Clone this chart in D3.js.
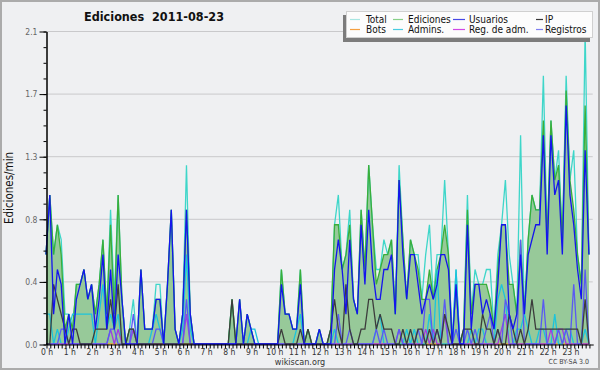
<!DOCTYPE html>
<html>
<head>
<meta charset="utf-8">
<script src="https://cdnjs.cloudflare.com/ajax/libs/d3/7.8.5/d3.min.js"></script>
<style>
  html, body { margin: 0; padding: 0; background: #fff; }
  svg { display: block; }
  text { font-family: 'DejaVu Sans Condensed', 'DejaVu Sans', sans-serif; font-stretch: condensed; }
</style>
</head>
<body>
<div id="chart"></div>
<script>
// values per 10 minutes (edits/min), 6 per hour, 0h .. 23h50
var total = [
  0.6,1.0,0.6,0.8,0.7,0.2, 0.2,0.1,0.4,0.4,0.5,0.3, 0.4,0.2,0.4,0.7,0.2,0.9,
  0.3,1.0,0.3,0,0.1,0.3,   0,0.5,0.1,0.1,0.1,0.4,   0.4,0,0.4,0.9,0.1,0,
  0.2,1.2,0.2,0,0,0,       0,0,0,0,0,0,             0,0.3,0,0.3,0,0.2,
  0.1,0,0,0,0,0,           0,0,0.5,0.2,0.2,0.1,     0.1,0.5,0,0.1,0,0,
  0.1,0,0,0.1,0.8,1.0,     0.5,0.6,0.9,0.3,0.2,0.9, 0.5,1.2,0.8,0.5,0.5,0.7,
  0.6,0.7,0.2,1.2,0.7,0.3, 0.7,0.6,0.6,0.3,0.6,0.8, 0.3,0.6,0.6,1.1,0.6,0,
  0.5,0,0.1,1.0,0.2,0.5,   0.4,0.4,0.5,0.5,0.1,0.6, 0.8,1.1,0.6,0.4,0.2,1.4,
  0.2,0.7,1.0,0.9,0.9,1.8, 0.7,1.5,1.1,1.3,0.7,1.8, 1.1,1.3,0.6,0.4,2.1,0.6
];
var ediciones = [
  0.6,1.0,0.6,0.8,0.6,0.1, 0.2,0.1,0.4,0.4,0.5,0.3, 0.4,0.2,0.4,0.7,0.2,0.8,
  0.2,1.0,0.3,0,0.1,0.1,   0,0.5,0.1,0.1,0.1,0.3,   0.3,0,0.4,0.9,0.1,0,
  0.2,0.9,0.2,0,0,0,       0,0,0,0,0,0,             0,0.3,0,0.3,0,0.2,
  0.1,0,0,0,0,0,           0,0,0.5,0.2,0.2,0.1,     0.1,0.5,0,0.1,0,0,
  0.1,0,0,0.1,0.8,0.8,     0.5,0.6,0.8,0.3,0.2,0.9, 0.5,1.2,0.8,0.4,0.5,0.6,
  0.6,0.7,0.2,1.1,0.7,0.3, 0.7,0.6,0.5,0.3,0.3,0.5, 0.3,0.5,0.6,0.8,0.6,0,
  0.4,0,0.1,0.9,0.2,0.4,   0.4,0.4,0.4,0.3,0.1,0.5, 0.8,0.8,0.4,0.4,0.2,0.7,
  0.2,0.7,1.0,0.9,0.9,1.5, 0.7,1.5,1.1,1.2,0.7,1.7, 1.1,0.9,0.6,0.4,1.6,0.6
];
var usuarios = [
  0.6,1.0,0.2,0.5,0.4,0,   0.2,0,0.3,0.4,0.5,0.3,   0.4,0.1,0.3,0.6,0.1,0.5,
  0.1,0.6,0.3,0,0,0,       0,0.5,0.1,0.1,0.1,0.3,   0.3,0,0.4,0.9,0.1,0,
  0.2,0.9,0.2,0,0,0,       0,0,0,0,0,0,             0,0,0,0.3,0,0.2,
  0.1,0,0,0,0,0,           0,0,0.4,0.2,0.2,0.1,     0.1,0.4,0,0,0,0,
  0.1,0,0,0,0.5,0.7,       0.5,0.2,0.7,0.3,0.2,0.8, 0.4,0.9,0.5,0.3,0.3,0.5,
  0.5,0.6,0.2,1.1,0.6,0.3, 0.6,0.6,0.4,0.2,0.3,0.4, 0.3,0.4,0.6,0.6,0.5,0,
  0.4,0,0,0.8,0.1,0.4,     0.4,0.2,0.3,0.2,0.1,0.4, 0.8,0.8,0.2,0.1,0.2,0.6,
  0.2,0.6,0.7,0.8,0.8,1.4, 0.6,1.4,1.0,1.1,0.6,1.6, 1.0,0.8,0.5,0.3,1.3,0.6
];
var ip = [
  0,0,0.4,0.3,0.2,0.1,     0,0.1,0.1,0,0,0,         0,0.1,0.1,0.1,0.1,0.3,
  0.1,0.4,0,0,0.1,0.1,     0,0,0,0,0,0,             0,0,0,0,0,0,
  0,0,0,0,0,0,             0,0,0,0,0,0,             0,0.3,0,0,0,0,
  0,0,0,0,0,0,             0,0,0.1,0,0,0,           0,0.1,0,0.1,0,0,
  0,0,0,0.1,0.3,0.1,       0,0.4,0.1,0,0,0.1,       0.1,0.3,0.3,0.1,0.2,0.1,
  0.1,0.1,0,0,0.1,0,       0.1,0,0.1,0.1,0,0.1,     0,0.1,0,0.2,0.1,0,
  0,0,0.1,0.1,0.1,0,       0,0.2,0.1,0.1,0,0.1,     0,0,0.2,0.1,0,0.1,
  0,0.1,0.3,0.1,0.1,0.1,   0.1,0.1,0.1,0.1,0.1,0.1, 0.1,0.1,0.1,0,0.3,0
];
var bots = [
  0,0,0,0,0,0, 0,0,0,0,0,0, 0,0,0,0,0,0, 0,0,0,0,0,0, 0,0,0,0,0,0, 0,0,0,0,0,0,
  0,0,0,0,0,0, 0,0,0,0,0,0, 0,0,0,0,0,0, 0,0,0,0,0,0, 0,0,0,0,0,0, 0,0,0,0,0,0,
  0,0,0,0,0,0, 0,0,0,0,0,0, 0,0,0,0,0,0, 0,0,0,0,0,0, 0,0,0,0,0,0, 0,0,0,0,0,0,
  0,0,0,0,0,0, 0,0,0,0,0,0, 0,0,0,0,0,0, 0,0,0,0,0,0, 0,0,0,0,0,0, 0,0,0,0,0,0
];
var admins = [
  0.2,0.2,0,0.1,0,0,       0.1,0.2,0.2,0.2,0.2,0.2, 0.2,0,0.2,0.4,0.1,0.2,
  0.1,0.2,0,0,0,0.1,       0,0,0,0,0.1,0.2,         0.1,0,0,0,0,0,
  0.1,0.6,0.1,0,0,0,       0,0,0,0,0,0,             0,0,0,0,0,0,
  0.1,0.1,0,0,0,0,         0,0,0,0,0,0,             0.1,0.2,0,0,0,0,
  0,0,0,0,0.1,0,           0,0,0,0,0,0,             0,0,0,0.1,0.2,0,
  0,0,0,0,0,0.1,           0,0.1,0,0,0,0.2,         0,0.5,0,0,0,0,
  0.5,0,0,0,0.1,0,         0.1,0.1,0,0,0,0.3,       0.4,0.3,0,0,0.1,0.1,
  0.2,0.1,0,0,0.1,0.1,     0,0,0.2,0,0,0.1,         0.1,0,0,0,0.1,0
];
var regAdm = [
  0,0,0,0,0,0, 0,0,0,0,0,0, 0,0,0,0,0,0.1, 0,0.1,0,0,0,0.1, 0,0,0,0,0,0, 0,0,0,0,0,0,
  0,0.2,0,0,0,0, 0,0,0,0,0,0, 0,0,0,0,0,0, 0,0,0,0,0,0, 0,0,0,0,0,0, 0,0,0,0,0,0,
  0,0,0,0,0,0, 0,0,0,0,0,0, 0,0,0,0,0,0, 0,0,0,0.1,0,0, 0,0,0,0,0.1,0, 0.1,0,0,0.2,0,0,
  0,0,0,0,0,0, 0,0,0,0,0,0, 0.1,0.2,0,0,0,0, 0,0,0,0,0,0, 0,0.1,0,0.1,0.1,0, 0,0,0,0,0,0
];
var registros = [
  0,0,0,0,0.1,0.1,         0,0,0,0,0,0,             0,0,0,0,0,0.1,
  0.1,0,0,0,0,0.2,         0,0,0,0,0,0.1,           0.1,0,0,0,0,0,
  0,0.3,0,0,0,0,           0,0,0,0,0,0,             0,0,0,0,0,0,
  0,0,0,0,0,0,             0,0,0,0,0,0,             0,0,0,0,0,0,
  0,0,0,0,0,0.2,           0,0,0.1,0,0,0,           0,0,0,0.1,0,0.1,
  0,0,0,0.1,0,0,           0,0,0.1,0,0.3,0.3,       0,0.1,0,0.3,0,0,
  0.1,0,0,0.1,0,0.1,       0,0,0.1,0.2,0,0.1,       0,0.3,0.2,0,0,0.7,
  0,0,0,0,0,0.3,           0,0,0,0.1,0,0.1,         0,0.4,0,0,0.5,0
];

var seriesNames = ['Total', 'Ediciones', 'Usuarios', 'IP', 'Bots', 'Admins.', 'Reg. de adm.', 'Registros'];
var seriesData = [total, ediciones, usuarios, ip, bots, admins, regAdm, registros];
var seriesColors = ['#3ed6c9', '#3aae3a', '#1414ee', '#3c3c3c', '#f0a030', '#1cc4dc', '#a33de0', '#5a5af2'];
var legendColors = ['#a8e6e2', '#88d088', '#4848e6', '#383838', '#f5a040', '#48cce0', '#d048e6', '#7e7ef0'];
var drawOrder = [0, 1, 4, 5, 6, 7, 3, 2];
var hourLabels = d3.range(24).map(h => h + ' h');
var yMajor = [0, 0.42, 0.84, 1.26, 1.68, 2.1];

var width = 600, height = 370;

var svg = d3.select('#chart')
  .append('svg')
  .attr('width', width)
  .attr('height', height);

svg.append('rect')
  .attr('x', 1).attr('y', 1)
  .attr('width', width - 2).attr('height', height - 2)
  .attr('fill', '#eff0f2')
  .attr('stroke', '#ababab')
  .attr('stroke-width', 2);

let xScale = d3.scaleLinear()
  .domain([0, 24])
  .range([46, 46 + 24 * 22.78]);

let yScale = d3.scaleLinear()
  .domain([0, 2.1])
  .range([344, 31]);

// grid lines
svg.append('g')
  .selectAll('line')
  .data(yMajor.slice(1))
  .enter()
  .append('line')
  .attr('x1', xScale(0))
  .attr('x2', xScale(24))
  .attr('y1', d => yScale(d) + 0.5)
  .attr('y2', d => yScale(d) + 0.5)
  .attr('stroke', '#c9c9cb')
  .attr('stroke-width', 1);

let xOf = (d, i) => xScale(i / 6);

let area = d3.area()
  .x(xOf)
  .y0(yScale(0))
  .y1(d => yScale(d));

svg.append('path')
  .datum(ediciones)
  .attr('d', area)
  .attr('fill', '#97c999');

let line = d3.line()
  .x(xOf)
  .y(d => yScale(d));

drawOrder.forEach(k => {
  svg.append('path')
    .datum(seriesData[k])
    .attr('d', line)
    .attr('fill', 'none')
    .attr('stroke', seriesColors[k])
    .attr('stroke-width', 1.3)
    .attr('stroke-linejoin', 'miter');
});

// axes
let yAxis = d3.axisLeft(yScale)
  .tickValues(yMajor)
  .tickSize(7)
  .tickSizeOuter(0)
  .tickFormat(d3.format('.1f'));

let yMinor = d3.axisLeft(yScale)
  .tickValues(d3.range(0, 21).map(k => k * 0.105))
  .tickSize(3)
  .tickSizeOuter(0)
  .tickFormat('');

let xAxis = d3.axisBottom(xScale)
  .tickValues(d3.range(0, 144).map(k => k / 6))
  .tickSize(4)
  .tickSizeOuter(0)
  .tickFormat(d => Number.isInteger(Math.round(d * 6) / 6) && Math.abs(d - Math.round(d)) < 1e-6 ? hourLabels[Math.round(d)] : '');

let gy = svg.append('g')
  .attr('transform', 'translate(46.5, 0.5)')
  .call(yAxis);
svg.append('g')
  .attr('transform', 'translate(46.5, 0.5)')
  .call(yMinor);
let gx = svg.append('g')
  .attr('transform', 'translate(0.5, 344.5)')
  .call(xAxis);

svg.selectAll('.domain').attr('stroke', '#000');
svg.selectAll('.tick line').attr('stroke', '#000');
gy.selectAll('text')
  .attr('x', -9)
  .style('font-size', '8.5px')
  .attr('fill', '#666');
gx.selectAll('text')
  .attr('y', 4)
  .attr('dy', '0.71em')
  .style('font-size', '8.5px')
  .attr('fill', '#333');

// titles
svg.append('text')
  .attr('x', 154)
  .attr('y', 21)
  .attr('text-anchor', 'middle')
  .style('font-size', '12.5px')
  .style('font-weight', 'bold')
  .attr('fill', '#111')
  .text('Ediciones  2011-08-23')
  .attr('xml:space', 'preserve');

svg.append('text')
  .attr('transform', 'translate(13, 188) rotate(-90)')
  .attr('text-anchor', 'middle')
  .style('font-size', '11.5px')
  .attr('fill', '#111')
  .text('Ediciones/min');

svg.append('text')
  .attr('x', 300)
  .attr('y', 365)
  .attr('text-anchor', 'middle')
  .style('font-size', '9px')
  .attr('fill', '#333')
  .text('wikiscan.org');

svg.append('text')
  .attr('x', 589)
  .attr('y', 364)
  .attr('text-anchor', 'end')
  .style('font-size', '7px')
  .attr('fill', '#444')
  .text('CC BY-SA 3.0');

// legend
let legend = svg.append('g');
legend.append('rect')
  .attr('x', 343).attr('y', 15)
  .attr('width', 247).attr('height', 27)
  .attr('fill', '#7c7c7c');
legend.append('rect')
  .attr('x', 346.5).attr('y', 11.5)
  .attr('width', 246).attr('height', 26)
  .attr('fill', '#fcfcfc')
  .attr('stroke', '#d0d0d0');

let colX = [350, 393, 453, 536];
let colW = [10, 10, 12, 7];
let textX = [366, 408, 469, 545];
seriesNames.forEach((name, k) => {
  let c = k % 4, r = Math.floor(k / 4);
  let yy = 19.5 + r * 10;
  legend.append('line')
    .attr('x1', colX[c]).attr('x2', colX[c] + colW[c])
    .attr('y1', yy).attr('y2', yy)
    .attr('stroke', legendColors[k])
    .attr('stroke-width', 1.2);
  legend.append('text')
    .attr('x', textX[c])
    .attr('y', yy + 3.5)
    .style('font-size', '10px')
    .attr('fill', '#111')
    .text(name);
});
</script>
</body>
</html>
